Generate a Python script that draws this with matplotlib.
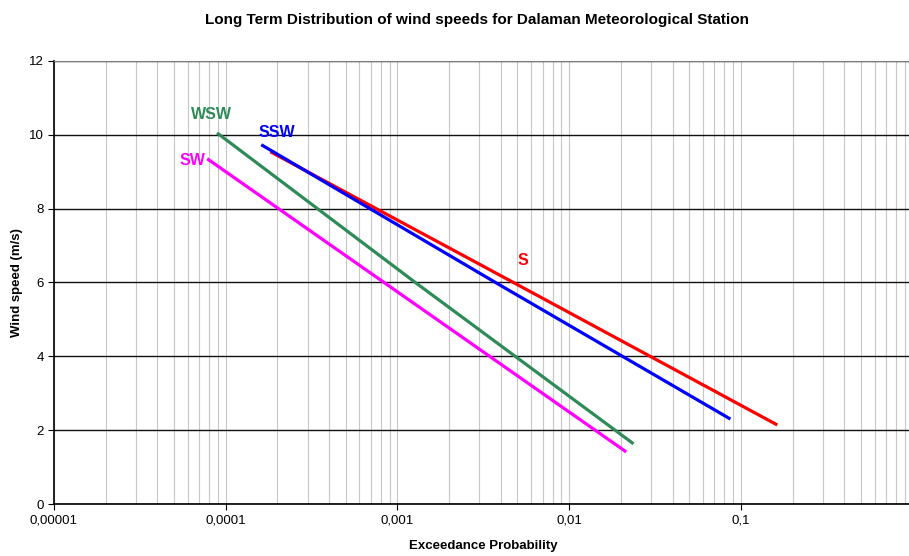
import matplotlib
matplotlib.use("Agg")
import matplotlib.pyplot as plt
from matplotlib.ticker import FixedLocator, LogLocator, NullFormatter

plt.rcParams["font.family"] = ["Liberation Sans", "DejaVu Sans"]

# exceedance probability / wind speed (m/s)
s_prob = [1.82e-4, 4.73e-3, 0.163]
s_speed = [9.54, 6.0, 2.14]
ssw_prob = [1.61e-4, 3.72e-3, 0.0869]
ssw_speed = [9.73, 6.0, 2.30]
wsw_prob = [8.9e-5, 1.27e-3, 0.0237]
wsw_speed = [10.05, 6.0, 1.63]
sw_prob = [7.8e-5, 0.0215]
sw_speed = [9.35, 1.41]

x_ticks = [1e-5, 1e-4, 1e-3, 1e-2, 1e-1]
x_labels = ["0,00001", "0,0001", "0,001", "0,01", "0,1"]
y_ticks = [0, 2, 4, 6, 8, 10, 12]

series = [
    ("S", s_prob, s_speed, "#ff0000", (5.0e-3, 6.6)),
    ("SSW", ssw_prob, ssw_speed, "#0000ff", (1.55e-4, 10.05)),
    ("WSW", wsw_prob, wsw_speed, "#2e8b57", (6.3e-5, 10.55)),
    ("SW", sw_prob, sw_speed, "#ff00ff", (5.4e-5, 9.3)),
]

fig = plt.figure(figsize=(9.09, 5.56), dpi=100)
ax = fig.add_axes([0.0594, 0.0935, 1.004 - 0.0594, 0.797])

for name, px, py, color, (lx, ly) in series:
    ax.plot(px, py, color=color, linewidth=2.3, solid_capstyle="butt", zorder=3)
    ax.text(lx, ly, name, color=color, fontsize=11.5, fontweight="bold",
            ha="left", va="center")

ax.set_xscale("log")
ax.set_xlim(1e-5, 1.0)
ax.set_ylim(0, 12)
ax.xaxis.set_major_locator(FixedLocator(x_ticks + [1.0]))
ax.set_xticklabels(x_labels + [""])
ax.xaxis.set_minor_locator(LogLocator(base=10, subs=range(2, 10), numticks=20))
ax.xaxis.set_minor_formatter(NullFormatter())
ax.set_yticks(y_ticks)

ax.grid(True, axis="x", which="both", color="#c8c8c8", linewidth=0.8)
ax.grid(True, axis="y", which="major", color="#101010", linewidth=1.0)
ax.set_axisbelow(True)
ax.tick_params(axis="x", which="minor", length=0)
ax.tick_params(axis="both", which="major", direction="out", length=4,
               labelsize=9.5, color="#000000")

ax.spines["right"].set_visible(False)
ax.spines["top"].set_color("#808080")
ax.spines["left"].set_linewidth(1.2)
ax.spines["bottom"].set_linewidth(1.2)

ax.set_xlabel("Exceedance Probability", fontsize=9.5, fontweight="bold", labelpad=10)
ax.set_ylabel("Wind speed (m/s)", fontsize=9.5, fontweight="bold")
ax.yaxis.set_label_coords(-0.036, 0.5)
fig.suptitle("Long Term Distribution of wind speeds for Dalaman Meteorological Station",
             x=0.525, y=0.976, fontsize=11, fontweight="bold")

fig.savefig("out.png", dpi=100)
